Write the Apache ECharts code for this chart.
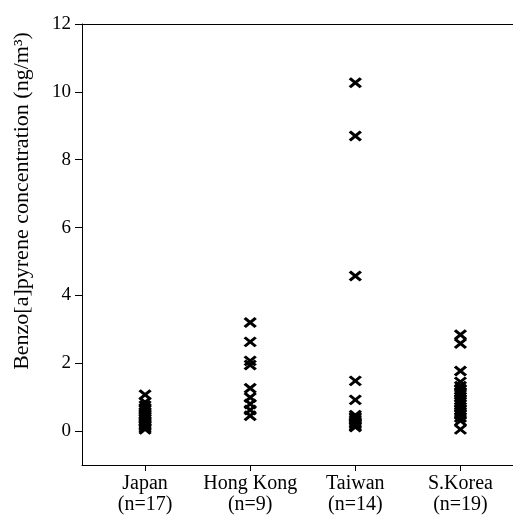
<!DOCTYPE html>
<html>
<head>
<meta charset="utf-8">
<script src="https://cdn.jsdelivr.net/npm/echarts@6/dist/echarts.min.js"></script>
<style>html,body{margin:0;padding:0;background:#fff;}#c{width:513px;height:515px;}</style>
</head>
<body>
<div id="c"></div>
<script>
var categories = ['Japan', 'Hong Kong', 'Taiwan', 'S.Korea'];
var sampleCounts = [17, 9, 14, 19];
var japan = [1.07, 0.85, 0.75, 0.68, 0.62, 0.56, 0.5, 0.45, 0.4, 0.35, 0.3, 0.26, 0.22, 0.18, 0.14, 0.1, 0.05];
var hongKong = [3.2, 2.63, 2.07, 1.95, 1.26, 0.99, 0.8, 0.62, 0.45];
var taiwan = [10.27, 8.7, 4.57, 1.48, 0.92, 0.47, 0.42, 0.38, 0.33, 0.28, 0.24, 0.2, 0.15, 0.12];
var sKorea = [2.84, 2.58, 1.77, 1.45, 1.32, 1.22, 1.15, 1.08, 1.0, 0.92, 0.85, 0.78, 0.7, 0.62, 0.55, 0.48, 0.4, 0.3, 0.05];
var yTicks = [0, 2, 4, 6, 8, 10, 12];
var yName = 'Benzo[a]pyrene concentration (ng/m\u00B3)';

var groups = [japan, hongKong, taiwan, sKorea];
var points = [];
groups.forEach(function (g, i) {
  g.forEach(function (v) { points.push([i + 1, v]); });
});
var font = 'Liberation Serif';
var chart = echarts.init(document.getElementById('c'));
chart.setOption({
  animation: false,
  grid: { left: 82, top: 24, width: 433, height: 441 },
  xAxis: [{
    type: 'value', min: 0.4, max: 4.5, position: 'bottom',
    axisLine: { show: true, onZero: false, lineStyle: { color: '#000', width: 1 } },
    splitLine: { show: false },
    axisTick: { show: true, customValues: [1, 2, 3, 4], length: 6, lineStyle: { color: '#000' } },
    axisLabel: {
      customValues: [1, 2, 3, 4], margin: 8, color: '#000', fontFamily: font, fontSize: 20, lineHeight: 21,
      formatter: function (v) { var i = Math.round(v) - 1; return categories[i] + '\n(n=' + sampleCounts[i] + ')'; }
    }
  }, {
    type: 'value', min: 0.4, max: 4.5, position: 'top',
    axisLine: { show: true, onZero: false, lineStyle: { color: '#000', width: 1 } },
    splitLine: { show: false }, axisTick: { show: false }, axisLabel: { show: false }
  }],
  yAxis: {
    type: 'value', min: -1, max: 12,
    axisLine: { show: true, onZero: false, lineStyle: { color: '#000', width: 1 } },
    splitLine: { show: false },
    axisTick: { show: true, customValues: yTicks, length: 7, lineStyle: { color: '#000' } },
    axisLabel: { customValues: yTicks, margin: 11, color: '#000', fontFamily: font, fontSize: 19 }
  },
  graphic: [{
    type: 'text', x: 22, y: 201, rotation: Math.PI / 2,
    style: { text: yName, fill: '#000', font: '22px "Liberation Serif"', align: 'center', verticalAlign: 'middle' }
  }],
  series: [{
    type: 'scatter',
    data: points,
    symbol: 'path://M0,0L12,10M12,0L0,10',
    symbolSize: [11, 9],
    itemStyle: { color: '#000', borderColor: '#000', borderWidth: 3, opacity: 1 }
  }]
});
</script>
</body>
</html>
